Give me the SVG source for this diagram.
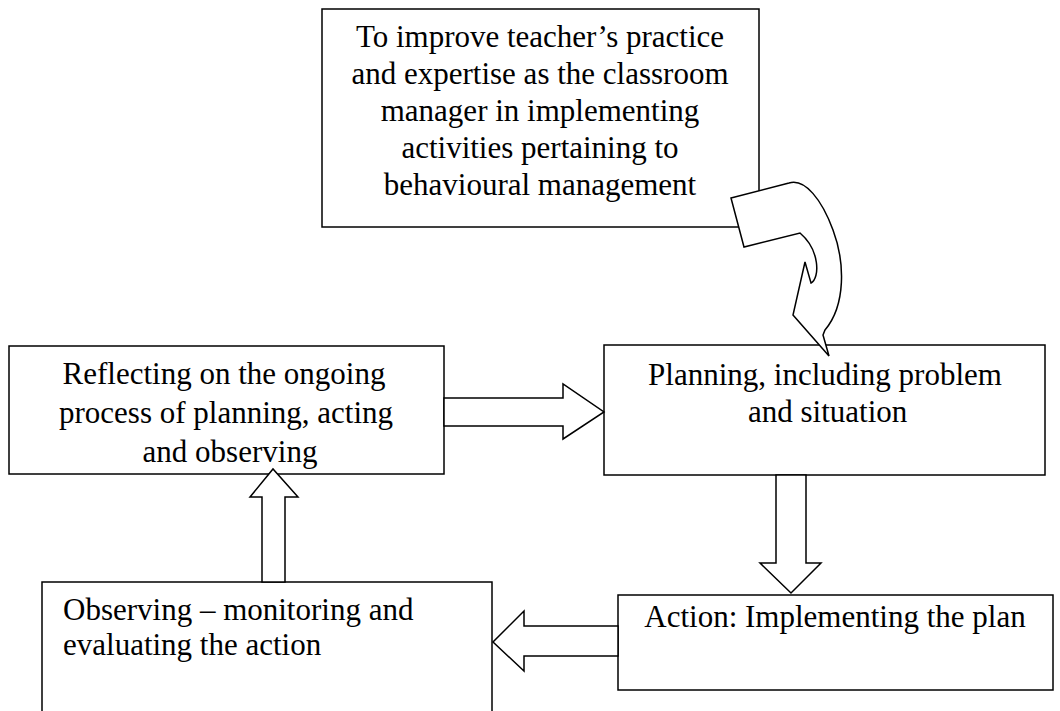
<svg xmlns="http://www.w3.org/2000/svg" width="1060" height="711" viewBox="0 0 1060 711">
<style>
.box{fill:#fff;stroke:#000;stroke-width:1.5}
.arr{fill:#fff;stroke:#000;stroke-width:1.5;stroke-linejoin:miter}
text{font-family:"Liberation Serif","Times New Roman",serif;font-size:31px;fill:#000}
.c{text-anchor:middle}
</style>
<rect width="1060" height="711" fill="#fff"/>
<g id="goal">
<rect class="box" x="322" y="9" width="437" height="218"/>
<text class="c" x="540" y="47">To improve teacher’s practice</text>
<text class="c" x="540" y="84">and expertise as the classroom</text>
<text class="c" x="540" y="121">manager in implementing</text>
<text class="c" x="540" y="158">activities pertaining to</text>
<text class="c" x="540" y="195">behavioural management</text>
</g>
<g id="reflecting">
<rect class="box" x="9" y="346" width="435" height="128"/>
<text class="c" x="224" y="384">Reflecting on the ongoing</text>
<text class="c" x="226" y="423">process of planning, acting</text>
<text class="c" x="230" y="462">and observing</text>
</g>
<g id="planning">
<rect class="box" x="604" y="345" width="441" height="130"/>
<text class="c" x="825" y="385">Planning, including problem</text>
<text x="748" y="422">and situation</text>
</g>
<g id="action">
<rect class="box" x="618" y="595" width="435" height="95"/>
<text class="c" x="835" y="627">Action: Implementing the plan</text>
</g>
<g id="observing">
<rect class="box" x="42" y="582" width="450" height="140"/>
<text x="63" y="620">Observing – monitoring and</text>
<text x="63" y="655">evaluating the action</text>
</g>
<g id="connectors">
<path class="arr" d="M731,198 L789,183 C805,178 822,200 833,230 C845,262 846,305 825,330 L823,335 L829,356 L793,315 L805,262 L811,283 C820,278 820,250 800,233 L744,247 Z"/>
<path class="arr" d="M444,398 L563,398 L563,384 L604,412 L563,439 L563,426 L444,426 Z"/>
<path class="arr" d="M776,475 L806,475 L806,563 L821,563 L791,593 L760,563 L776,563 Z"/>
<path class="arr" d="M618,626 L524,626 L524,611 L493,642 L524,671 L524,656 L618,656 Z"/>
<path class="arr" d="M262,582 L262,497 L250,497 L273,469 L298,497 L285,497 L285,582 Z"/>
</g>
</svg>
